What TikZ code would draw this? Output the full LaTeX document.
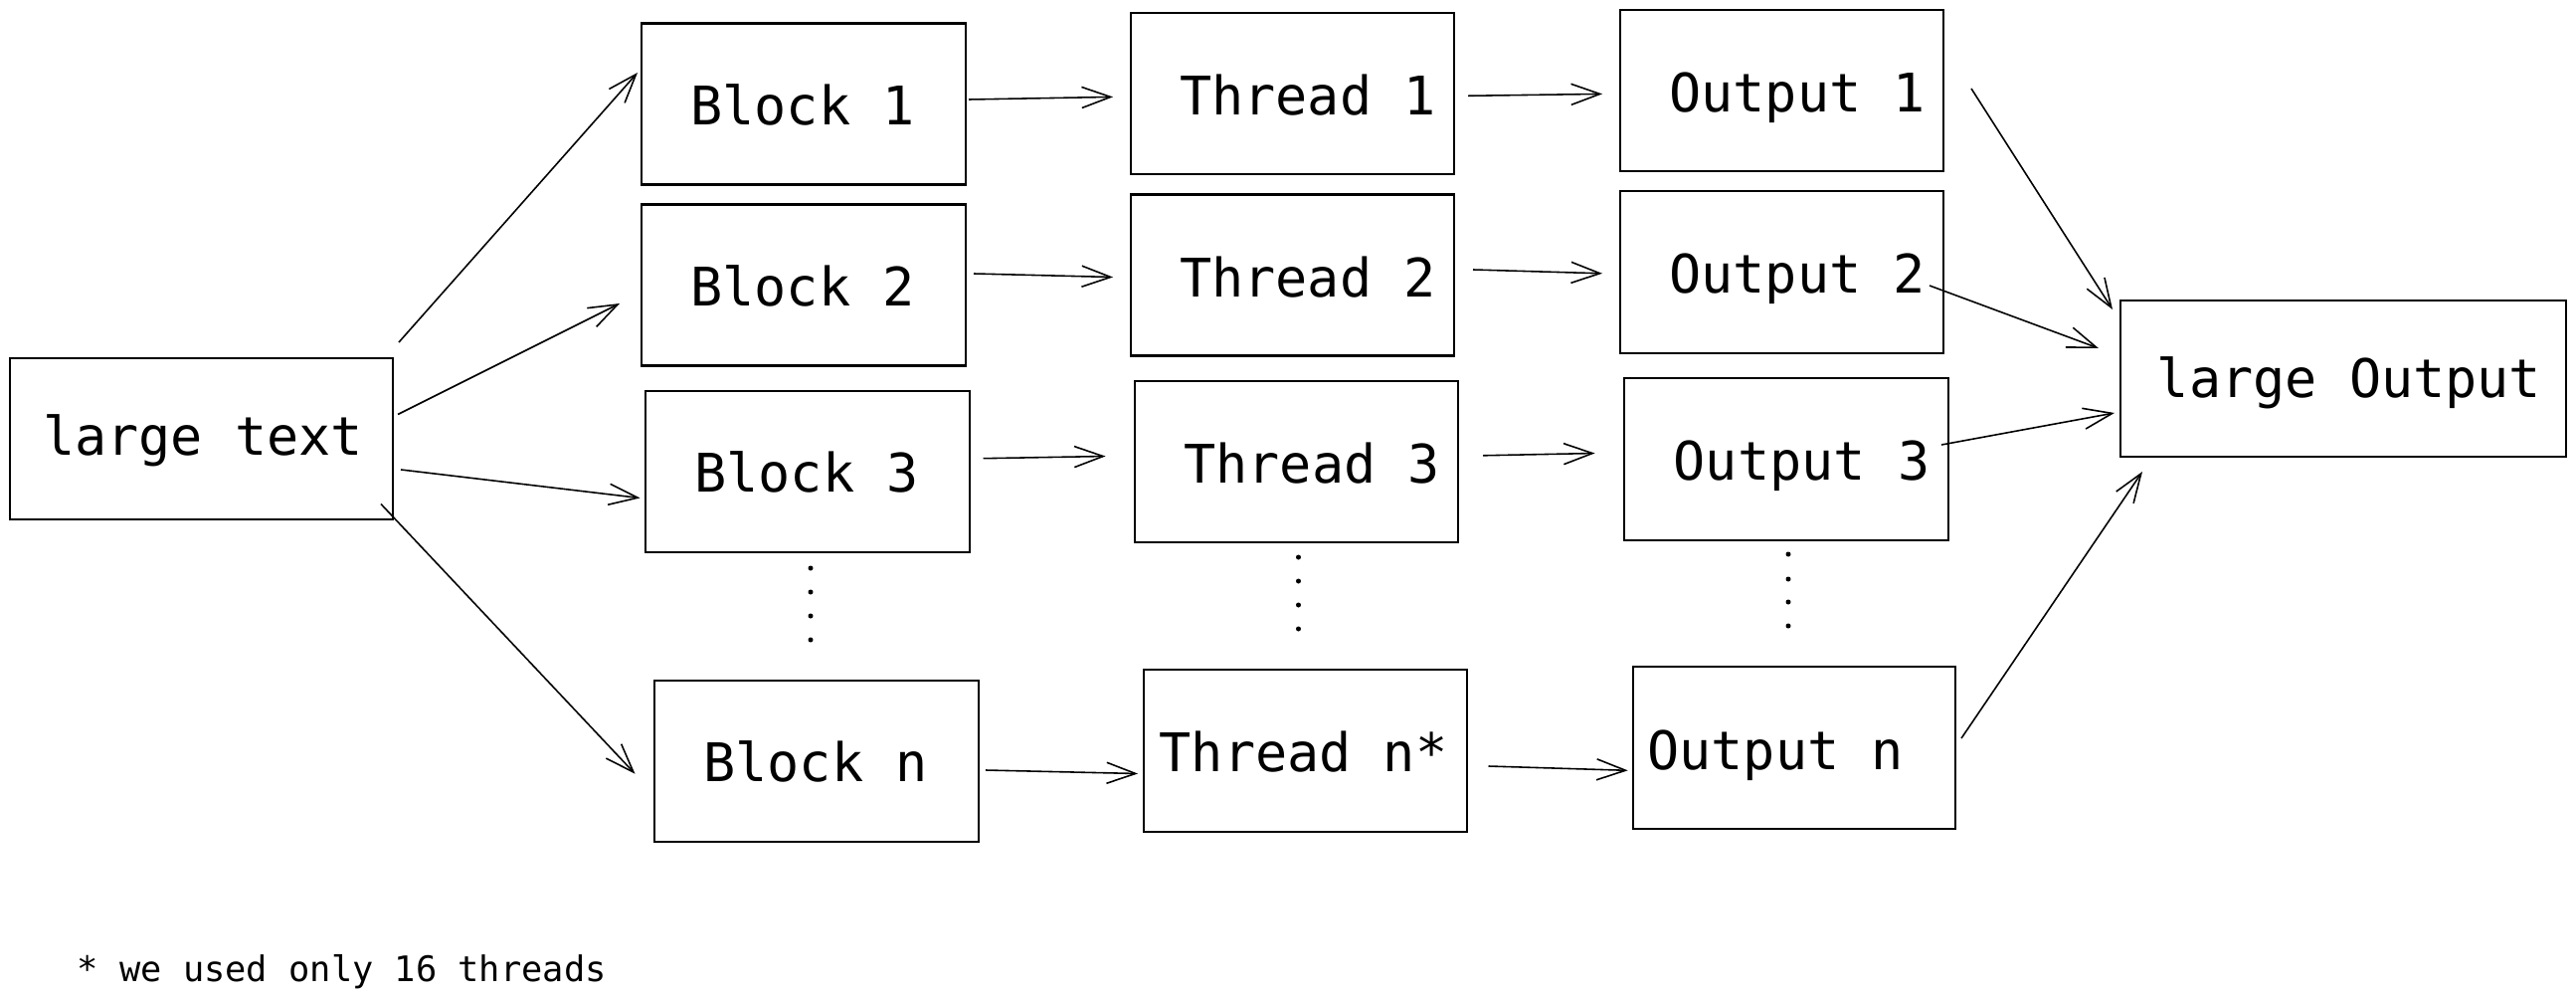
\documentclass[tikz,border=0pt]{standalone}
\usepackage{fontspec}
\newfontfamily\monofnt{DejaVu Sans Mono}
\usetikzlibrary{arrows.meta}
\begin{document}
\begin{tikzpicture}[x=0.01cm,y=-0.01cm,
  box/.style={draw,line width=0.6pt,inner sep=0pt,minimum width=3.25cm,minimum height=1.62cm},
  lbl/.style={font=\monofnt\fontsize{15.2pt}{18pt}\selectfont,anchor=base,inner sep=0pt},
  note/.style={font=\monofnt\fontsize{10.05pt}{12pt}\selectfont,anchor=base west,inner sep=0pt},
  arr/.style={line width=0.45pt,-{Straight Barb[length=2.9mm,width=2.1mm,line width=0.45pt]}},
  dot/.style={fill,circle,inner sep=0pt,minimum size=0.05cm}]
\useasboundingbox (0,0) rectangle (2590,1006);

% boxes
\node[box,minimum width=3.85cm] (lt) at (202.5,441) {};
\node[box] (b1) at (808,104.5) {};
\node[box] (b2) at (808,286.5) {};
\node[box] (b3) at (812,474) {};
\node[box] (bn) at (821,765) {};
\node[box] (t1) at (1299.5,94) {};
\node[box] (t2) at (1299.5,276.5) {};
\node[box] (t3) at (1303.5,464) {};
\node[box,minimum height=1.63cm] (tn) at (1312.5,754.5) {};
\node[box] (o1) at (1791.5,91) {};
\node[box,minimum height=1.63cm] (o2) at (1791.5,273.5) {};
\node[box,minimum height=1.63cm] (o3) at (1796,461.5) {};
\node[box,minimum width=3.24cm,minimum height=1.63cm] (on) at (1804,751.5) {};
\node[box,minimum width=4.48cm,minimum height=1.57cm] (lo) at (2356,380.5) {};

% labels
\node[lbl] (ltx) at ([shift={(1.5,16)}]lt.center) {large text};
\node[lbl] (b1x) at ([shift={(-1,20.5)}]b1.center) {Block 1};
\node[lbl] (b2x) at ([shift={(-1,20.5)}]b2.center) {Block 2};
\node[lbl] (b3x) at ([shift={(-1,20.5)}]b3.center) {Block 3};
\node[lbl] (bnx) at ([shift={(-1,20.5)}]bn.center) {Block n};
\node[lbl] (t1x) at ([shift={(15.5,21.5)}]t1.center) {Thread 1};
\node[lbl] (t2x) at ([shift={(15.5,21.5)}]t2.center) {Thread 2};
\node[lbl] (t3x) at ([shift={(15.5,21.5)}]t3.center) {Thread 3};
\node[lbl] (tnx) at ([shift={(-2,20.5)}]tn.center) {Thread n*};
\node[lbl] (o1x) at ([shift={(15.5,21)}]o1.center) {Output 1};
\node[lbl] (o2x) at ([shift={(15.5,21)}]o2.center) {Output 2};
\node[lbl] (o3x) at ([shift={(15.5,21)}]o3.center) {Output 3};
\node[lbl] (onx) at ([shift={(-19,21.5)}]on.center) {Output n};
\node[lbl] (lox) at ([shift={(6,18.5)}]lo.center) {large Output};

\node[note] (fn) at (77,986) {* we used only 16 threads};

% dots
\foreach \yy [count=\i] in {571,595,619,643} \node[dot] (bd\i) at (815,\yy) {};
\foreach \yy [count=\i] in {560,584,608,632} \node[dot] (td\i) at (1305.5,\yy) {};
\foreach \yy [count=\i] in {557,582,605,629} \node[dot] (od\i) at (1798,\yy) {};

% large text -> blocks
\draw[arr] ([shift={(198.5,-97)}]lt.center) -- ([shift={(-167,-31.5)}]b1.center);
\draw[arr] ([shift={(197.5,-24.5)}]lt.center) -- ([shift={(-185,18.5)}]b2.center);
\draw[arr] ([shift={(200.5,31)}]lt.center) -- ([shift={(-168.5,26.5)}]b3.center);
\draw[arr] ([shift={(180.5,65.5)}]lt.center) -- ([shift={(-182.5,12.7)}]bn.center);

% blocks -> threads
\draw[arr] ([shift={(166,-4.5)}]b1.center) -- ([shift={(-180.5,3.4)}]t1.center);
\draw[arr] ([shift={(171,-11.5)}]b2.center) -- ([shift={(-180.5,2)}]t2.center);
\draw[arr] ([shift={(176.5,-13.3)}]b3.center) -- ([shift={(-192,-5.5)}]t3.center);
\draw[arr] ([shift={(170,9)}]bn.center) -- ([shift={(-168.5,23)}]tn.center);

% threads -> outputs
\draw[arr] ([shift={(176.5,2.3)}]t1.center) -- ([shift={(-180.5,3.4)}]o1.center);
\draw[arr] ([shift={(181.5,-5.5)}]t2.center) -- ([shift={(-180.5,1.3)}]o2.center);
\draw[arr] ([shift={(187.5,-6.2)}]t3.center) -- ([shift={(-192.5,-6)}]o3.center);
\draw[arr] ([shift={(184,15.5)}]tn.center) -- ([shift={(-167.3,22.8)}]on.center);

% outputs -> large Output
\draw[arr] ([shift={(190.5,-2)}]o1.center) -- ([shift={(-232,-69.5)}]lo.center);
\draw[arr] ([shift={(148.5,13.5)}]o2.center) -- ([shift={(-246,-30.5)}]lo.center);
\draw[arr] ([shift={(156,-14.5)}]o3.center) -- ([shift={(-230,34.5)}]lo.center);
\draw[arr] ([shift={(168,-9.5)}]on.center) -- ([shift={(-202,93.5)}]lo.center);
\end{tikzpicture}
\end{document}
